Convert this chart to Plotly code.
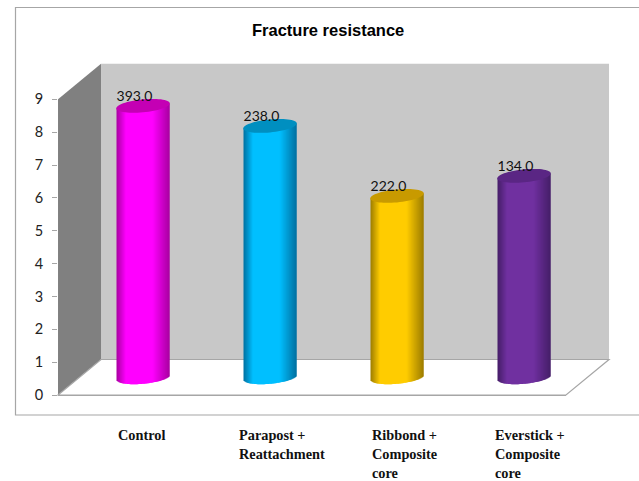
import math
import plotly.graph_objects as go

# --- data ---
categories = ["Control", "Parapost +<br>Reattachment", "Ribbond +<br>Composite<br>core", "Everstick +<br>Composite<br>core"]
values = [8.26, 7.65, 5.52, 6.13]
data_labels = ["393.0", "238.0", "222.0", "134.0"]
y_ticks = list(range(10))
title_text = "Fracture resistance"

# --- styles: bright body, shaded edge and top-cap colours per bar ---
bright = ["#FF00FF", "#00BFFF", "#FFCC00", "#7030A0"]
edge = ["#A800A0", "#0070A0", "#9C7C00", "#451E68"]
cap = ["#C400B4", "#008FC0", "#C89A00", "#5A2684"]
label_left_px = [116.5, 238, 371, 494]
W, H = 639, 481
X0, X1, Y0, Y9 = 58, 566, 395, 99.3
DX, DY = 43, 35.5
UNIT = (Y0 - Y9) / 9
SLOT = (X1 - X0) / 4
BAR_W = 53.5
A = BAR_W / 2
B, TILT = 6.5, 2.5


def px(x):
    return x / W


def py(y):
    return 1 - y / H


def hex_rgb(c):
    return tuple(int(c[i:i + 2], 16) for i in (1, 3, 5))


def mix(c1, c2, t):
    a, b = hex_rgb(c1), hex_rgb(c2)
    return "rgb(%d,%d,%d)" % tuple(round(a[k] + (b[k] - a[k]) * t) for k in range(3))


def shade(t):
    if t < 0.18:
        return 1 - t / 0.18
    if t > 0.68:
        return (t - 0.68) / 0.32
    return 0.0


fig = go.Figure()

# empty trace keeps the front axes alive
fig.add_trace(go.Scatter(x=[], y=[], xaxis="x", yaxis="y", showlegend=False))

# cylinder bodies as 1px strips
n = int(BAR_W)
idx = list(range(len(values)))
for s in range(n):
    t = (s + 0.5) / n
    u = 2 * t - 1
    base_off = -(B * math.sqrt(max(0, 1 - u * u)) - TILT * u) / UNIT
    top_off = TILT * u / UNIT
    w = min(2, n - s) / SLOT
    fig.add_trace(go.Bar(
        x=idx,
        y=[v + top_off - base_off for v in values],
        base=[base_off] * len(values),
        width=[w] * len(values),
        offset=[(s - n / 2) / SLOT] * len(values),
        marker=dict(color=[mix(bright[i], edge[i], shade(t)) for i in idx], line=dict(width=0)),
        xaxis="x2", yaxis="y2", showlegend=False, hoverinfo="skip",
    ))

# top caps
for i, v in enumerate(values):
    ts = [2 * math.pi * k / 60 for k in range(61)]
    fig.add_trace(go.Scatter(
        x=[i + A * math.cos(a) / SLOT for a in ts],
        y=[v - (B * math.sin(a) - TILT * math.cos(a)) / UNIT for a in ts],
        mode="none", fill="toself", fillcolor=cap[i],
        xaxis="x2", yaxis="y2", showlegend=False, hoverinfo="skip",
    ))

# data labels
fig.add_trace(go.Scatter(
    x=[i - 8.5 / SLOT for i in idx], y=[v + 1 / UNIT for v in values], text=data_labels,
    mode="text", textposition="top center",
    textfont=dict(family="Lato", size=14, color="#111111"),
    xaxis="x2", yaxis="y2", showlegend=False, hoverinfo="skip", cliponaxis=False,
))


def poly(points):
    return "M " + " L ".join("%.4f,%.4f" % (px(a), py(b)) for a, b in points) + " Z"


shapes = [
    dict(type="path", xref="paper", yref="paper", layer="below", line=dict(width=0), fillcolor="#C8C8C8",
         path=poly([(X0 + DX, Y9 - DY), (X1 + DX, Y9 - DY), (X1 + DX, Y0 - DY), (X0 + DX, Y0 - DY)])),
    dict(type="path", xref="paper", yref="paper", layer="below", line=dict(width=0), fillcolor="#808080",
         path=poly([(X0, Y9), (X0 + DX, Y9 - DY), (X0 + DX, Y0 - DY), (X0, Y0)])),
    dict(type="path", xref="paper", yref="paper", layer="below", line=dict(color="#A6A6A6", width=1.2), fillcolor="#FFFFFF",
         path=poly([(X0, Y0), (X0 + DX, Y0 - DY), (X1 + DX, Y0 - DY), (X1, Y0)])),
    dict(type="rect", xref="paper", yref="paper", layer="below", line=dict(color="#A6A6A6", width=1.2),
         fillcolor="rgba(0,0,0,0)", x0=px(15.5), x1=px(645), y0=py(415), y1=py(7.5)),
]

annotations = []
for i, c in enumerate(categories):
    for j, line in enumerate(c.split("<br>")):
        annotations.append(dict(
            text=line, x=px(label_left_px[i]), y=py(435 + 19 * j), xref="paper", yref="paper",
            xanchor="left", yanchor="middle", align="left", showarrow=False, borderpad=0,
            font=dict(family="Liberation Serif", size=14.3, color="#111111", weight="bold")))
annotations.append(dict(text=title_text, x=px(327.5), y=py(30), xref="paper", yref="paper", xanchor="center",
                        yanchor="middle", showarrow=False, borderpad=0,
                        font=dict(family="Liberation Sans", size=16.5, color="#000000", weight="bold")))

Y2_LO, Y2_HI = -0.5, 9.5
fig.update_layout(
    width=W, height=H, autosize=False, margin=dict(l=0, r=0, t=0, b=0, pad=0, autoexpand=False),
    paper_bgcolor="white", plot_bgcolor="rgba(0,0,0,0)", barmode="overlay", showlegend=False,
    shapes=shapes, annotations=annotations,
    xaxis=dict(domain=[px(X0), px(X1)], range=[0, 1], anchor="y", showticklabels=False, ticks="",
               showgrid=False, zeroline=False, showline=True, linecolor="#A6A6A6", linewidth=1),
    yaxis=dict(domain=[py(Y0), py(Y9)], range=[0, 9], anchor="x", tickvals=y_ticks, ticks="outside", ticklen=5,
               tickcolor="#A6A6A6", tickwidth=1, showgrid=False, zeroline=False, showline=False,
               ticklabelstandoff=6, tickfont=dict(family="Lato", size=14.5, color="#222222")),
    xaxis2=dict(domain=[px(X0 + DX / 2), px(X1 + DX / 2)], range=[-0.5, 3.5], anchor="y2", visible=False),
    yaxis2=dict(domain=[py(Y0 - DY / 2 - Y2_LO * UNIT), py(Y0 - DY / 2 - Y2_HI * UNIT)], range=[Y2_LO, Y2_HI],
                anchor="x2", visible=False),
)

fig.write_html("out.html", config={"displayModeBar": False},
               post_script="document.body.style.margin='0';")
